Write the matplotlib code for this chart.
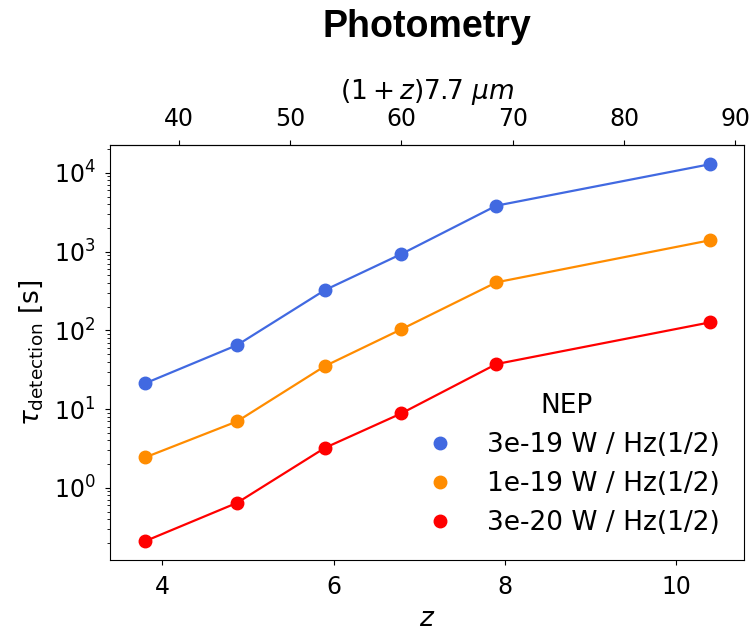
import numpy as np
import matplotlib
matplotlib.use("Agg")
import matplotlib.pyplot as plt

# redshifts of the bands
z = [3.80, 4.875, 5.90, 6.79, 7.90, 10.39]

# detection time [s] for each NEP
t_3e19 = [21.2, 65, 325, 930, 3830, 12850]
t_1e19 = [2.43, 6.98, 35.2, 103, 407, 1390]
t_3e20 = [0.21, 0.645, 3.22, 8.8, 37.3, 126]

labels = ['3e-19 W / Hz(1/2)', '1e-19 W / Hz(1/2)', '3e-20 W / Hz(1/2)']
colors = ['royalblue', 'darkorange', 'red']

fig = plt.figure(figsize=(7.53, 6.31), dpi=100)
ax = fig.add_axes([0.146, 0.1125, 0.842, 0.657])

for t, lab, c in zip([t_3e19, t_1e19, t_3e20], labels, colors):
    ax.plot(z, t, '-', color=c, lw=1.6)
    ax.plot(z, t, 'o', color=c, ms=9, label=lab)

ax.set_yscale('log')
ax.set_xlim(3.39, 10.79)
ax.set_xticks([4, 6, 8, 10])
ax.tick_params(labelsize=17, pad=7)
ax.set_xlabel('$z$', fontsize=19, labelpad=5)
ax.set_ylabel(r'$\tau_{\mathrm{detection}}$ [s]', fontsize=19, labelpad=6)

top = ax.secondary_xaxis('top', functions=(lambda x: (1 + x) * 7.7, lambda w: w / 7.7 - 1))
top.set_xticks([40, 50, 60, 70, 80, 90])
top.tick_params(labelsize=17, pad=7)
top.set_xlabel(r'$(1+z)7.7\ \mu m$', fontsize=19, labelpad=6)

leg = ax.legend(title='NEP', fontsize=19, title_fontsize=19, frameon=False, loc='lower right')

# title centred over the axes
ax_c = (0.146 + 0.988) / 2
fig.text(ax_c, 1 - 27 / 631, 'Photometry', fontsize=27, fontweight='bold',
         family='Liberation Sans', ha='center', va='center')

fig.savefig('out.png', dpi=100)
